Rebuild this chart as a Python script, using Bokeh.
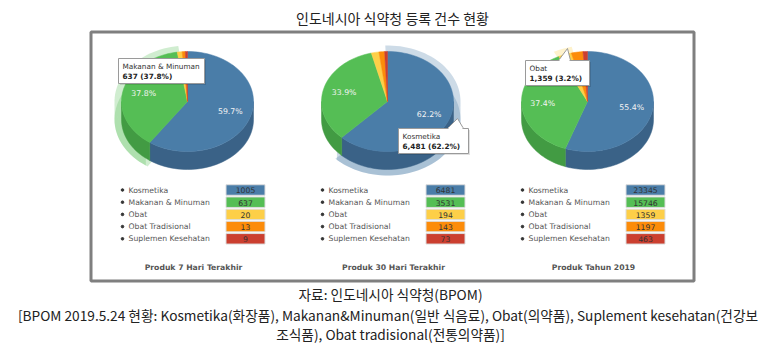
import numpy as np
from bokeh.plotting import figure
from bokeh.models import Range1d
from bokeh.core.properties import value
from bokeh.embed import file_html
from bokeh.resources import INLINE

# ---------------- data ----------------
title = "인도네시아 식약청 등록 건수 현황"
categories = ["Kosmetika", "Makanan & Minuman", "Obat", "Obat Tradisional", "Suplemen Kesehatan"]
vals_7d = [1005, 637, 20, 13, 9]
vals_30d = [6481, 3531, 194, 143, 73]
vals_2019 = [23345, 15746, 1359, 1197, 463]
panel_titles = ["Produk 7 Hari Terakhir", "Produk 30 Hari Terakhir", "Produk Tahun 2019"]
highlight_idx = [1, 0, 2]
source_lines = [
    "자료: 인도네시아 식약청(BPOM)",
    "[BPOM 2019.5.24 현황: Kosmetika(화장품), Makanan&Minuman(일반 식음료), Obat(의약품), Suplement kesehatan(건강보",
    "조식품), Obat tradisional(전통의약품)]",
]

# ---------------- style / layout ----------------
colors = ["#4A7DA8", "#55BE55", "#FDCF48", "#FC8C0A", "#CB3F2F"]
side_colors = ["#3A6287", "#429B43", "#D8AA2C", "#D06E00", "#9E2E22"]
series = [vals_7d, vals_30d, vals_2019]
cxs = [187, 387, 587]
cy, rx, ry, depth = 101, 66, 50, 18
tips = [(118, 58, 86), (398, 128, 70), (525, 60, 64)]  # left, top, width
pointers = [None, [(447, 128), (463, 128), (457, 118)], [(558, 60), (570, 60), (567, 48)]]

p = figure(width=768, height=345, x_range=Range1d(0, 768), y_range=Range1d(345, 0),
           output_backend="svg", toolbar_location=None, x_axis_type=None, y_axis_type=None,
           min_border=0, min_border_left=0, min_border_right=0, min_border_top=0, min_border_bottom=0)
p.outline_line_color = None
p.grid.visible = False
p.background_fill_color = "white"

FONT = value("DejaVu Sans")
KFONT = value("Noto Sans CJK KR")

# title
p.text(x=[392], y=[17], text=[title], text_align="center", text_baseline="middle",
       text_font=KFONT, text_font_size=value("14px"), text_color="#222222")

# frame
p.quad(left=[90.5], right=[693.5], top=[31.5], bottom=[280.5], fill_color=None,
       line_color="#7F7F7F", line_width=3)


def arc(cx, cyy, t0, t1, a=rx, b=ry, n=60):
    t = np.linspace(t0, t1, max(3, int(n * (t1 - t0) / np.pi) + 3))
    return cx + a * np.sin(t), cyy - b * np.cos(t)


for k, vals in enumerate(series):
    cx = cxs[k]
    v = np.array(vals, dtype=float)
    tot = v.sum()
    frac = v / tot
    ends = np.cumsum(frac) * 2 * np.pi
    starts = ends - frac * 2 * np.pi

    # halo behind highlighted slice
    h = highlight_idx[k]
    t0, t1 = starts[h], ends[h]
    hx, hy = [], []
    for off in (0, depth):
        ax, ay = arc(cx, cy + off, t0 - 0.03, t1 + 0.03, rx + 7, ry + 6)
        hx.append(list(np.r_[cx, ax, cx]))
        hy.append(list(np.r_[cy + off, ay, cy + off]))
    a0, a1 = max(t0, np.pi / 2), min(t1, 3 * np.pi / 2)
    if a1 > a0:
        ax, ay = arc(cx, cy, a0, a1, rx + 7, ry + 6)
        hx.append(list(np.r_[ax, ax[::-1]]))
        hy.append(list(np.r_[ay, ay[::-1] + depth]))
    p.patches(xs=hx, ys=hy, fill_color=colors[h], fill_alpha=0.28, line_color=None)

    # side walls
    sx, sy, sc = [], [], []
    for i in range(len(v)):
        a0, a1 = max(starts[i], np.pi / 2), min(ends[i], 3 * np.pi / 2)
        if a1 > a0:
            ax, ay = arc(cx, cy, a0, a1)
            sx.append(list(np.r_[ax, ax[::-1]]))
            sy.append(list(np.r_[ay, ay[::-1] + depth]))
            sc.append(side_colors[i])
    p.patches(xs=sx, ys=sy, fill_color=sc, line_color=sc, line_width=0.5)

    # top face
    tx, ty = [], []
    for i in range(len(v)):
        ax, ay = arc(cx, cy, starts[i], ends[i])
        tx.append(list(np.r_[cx, ax, cx]))
        ty.append(list(np.r_[cy, ay, cy]))
    p.patches(xs=tx, ys=ty, fill_color=colors, line_color=colors, line_width=0.5)

    # percent labels
    lx, ly, lt = [], [], []
    for i in range(len(v)):
        if frac[i] >= 0.1:
            m = (starts[i] + ends[i]) / 2
            lx.append(cx + 0.68 * rx * np.sin(m))
            ly.append(cy - 0.68 * ry * np.cos(m))
            lt.append(f"{frac[i]*100:.1f}%")
    p.text(x=lx, y=ly, text=lt, text_align="center", text_baseline="middle",
           text_font=FONT, text_font_size=value("7.8px"), text_color="#F4F4F4")

    # tooltip
    tl, tt, tw = tips[k]
    p.quad(left=[tl + 1.5], right=[tl + tw + 1.5], top=[tt + 1.5], bottom=[tt + 26.5],
           fill_color="#000000", fill_alpha=0.12, line_color=None)
    p.quad(left=[tl], right=[tl + tw], top=[tt], bottom=[tt + 25],
           fill_color="white", line_color="#9A9A9A", line_width=1)
    if pointers[k] is not None:
        pts = pointers[k]
        p.patch(x=[q[0] for q in pts], y=[q[1] for q in pts], fill_color="white",
                line_color="#9A9A9A", line_width=1)
        p.segment(x0=[pts[0][0] + 1], y0=[pts[0][1]], x1=[pts[1][0] - 1], y1=[pts[1][1]],
                  line_color="white", line_width=2)
    p.text(x=[tl + 4], y=[tt + 7.5], text=[categories[h]], text_align="left",
           text_baseline="middle", text_font=FONT, text_font_size=value("7.3px"),
           text_color="#333333")
    p.text(x=[tl + 4], y=[tt + 17.5], text=[f"{int(v[h]):,} ({frac[h]*100:.1f}%)"],
           text_align="left", text_baseline="middle", text_font=FONT,
           text_font_size=value("7.3px"), text_font_style="bold", text_color="#222222")

    # legend table
    rows = 189.5 + 12.2 * np.arange(len(v))
    p.scatter(x=[cx - 65] * len(v), y=rows, size=2.6, color="#333333")
    p.text(x=[cx - 59] * len(v), y=rows, text=categories, text_align="left",
           text_baseline="middle", text_font=FONT, text_font_size=value("7.7px"),
           text_color="#555555")
    p.rect(x=[cx + 58] * len(v), y=rows, width=39, height=10.5, fill_color=colors,
           line_color="#DDDDDD", line_width=1)
    p.text(x=[cx + 58] * len(v), y=rows + 0.3, text=[str(x) for x in vals],
           text_align="center", text_baseline="middle", text_font=FONT,
           text_font_size=value("7.7px"), text_color="#333333")

    # panel caption
    p.text(x=[cx + 6], y=[267], text=[panel_titles[k]], text_align="center",
           text_baseline="middle", text_font=FONT, text_font_size=value("7.7px"),
           text_font_style="bold", text_color="#555555")

# source lines
p.text(x=[390, 387.5, 390], y=[293.5, 314.5, 333], text=source_lines, text_align="center",
       text_baseline="middle", text_font=KFONT, text_font_size=value("13.7px"),
       text_color="#222222")

open("out.html", "w").write(file_html(p, INLINE))
